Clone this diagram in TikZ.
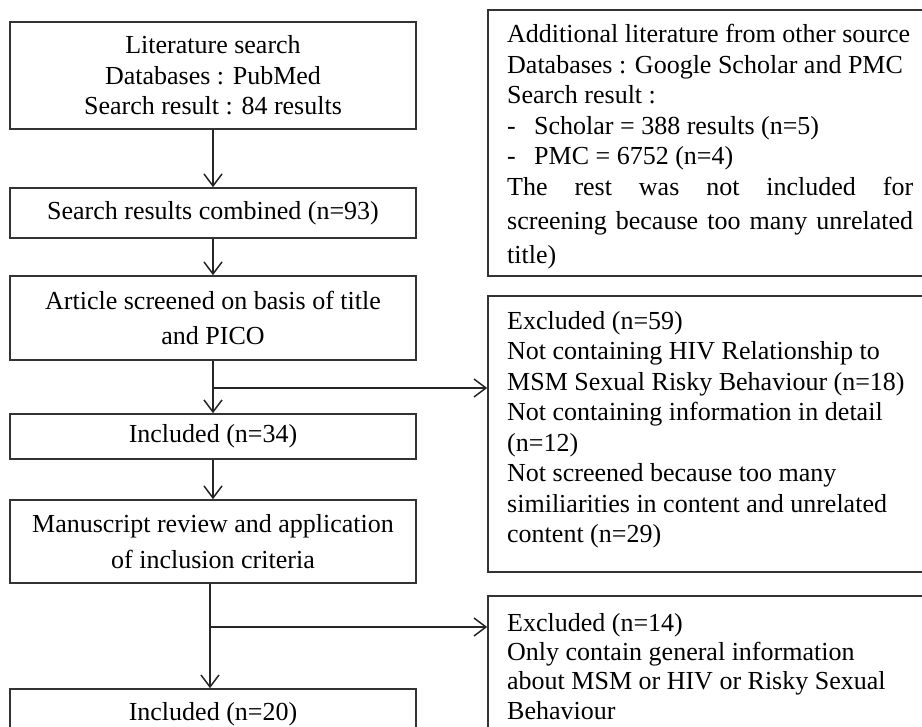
\documentclass[tikz,border=0pt]{standalone}
\usepackage{fontspec}
\setmainfont{Liberation Serif}
\usetikzlibrary{arrows.meta}
\begin{document}
\begin{tikzpicture}[x=1pt,y=-1pt,
  box/.style={draw=black!80, line width=1.6pt, inner sep=0pt},
  txt/.style={font=\fontsize{26}{30.5}\selectfont},
  lbox/.style={box, txt, minimum width=406pt, align=center},
  rbox/.style={box, minimum width=452pt},
  rtxt/.style={txt, inner sep=0pt, anchor=north west, text width=440pt, align=flush left},
  arr/.style={line width=1.6pt, draw=black!85, -{Straight Barb[length=12pt,width=18pt,line width=1.5pt]}}]
\useasboundingbox (0,0) rectangle (922,727);
\clip (0,0) rectangle (922,727);

% left column
\node[lbox, minimum height=107pt] (b1) at (213,75.5) {Literature search\\Databases : PubMed\\Search result : 84 results};
\node[lbox, minimum height=50pt] (b2) at (213,213) {Search results combined (n=93)};
\node[lbox, minimum height=84pt] (b3) at (213,318) {Article screened on basis of title\\[5pt]and PICO};
\node[lbox, minimum height=45pt] (b4) at (213,436.5) {Included (n=34)};
\node[lbox, minimum height=83pt] (b5) at (213,541.5) {Manuscript review and application\\[5pt]of inclusion criteria};
\node[lbox, minimum height=50pt] (b6) at (213,714) {Included (n=20)};

% right column
\node[rbox, minimum height=266pt] (r1) at (714,143) {};
\node[rtxt] (t1) at (507,24) {Additional literature from other source\\
Databases : Google Scholar and PMC\\
Search result :\\
\makebox[27pt][l]{-}Scholar = 388 results (n=5)\\
\makebox[27pt][l]{-}PMC = 6752 (n=4)\\
\makebox[406pt][s]{The rest was not included for}\\[4pt]
\makebox[406pt][s]{screening because too many unrelated}\\[3pt]
title)};

\node[rbox, minimum height=276pt] (r2) at (714,434) {};
\node[rtxt] (t2) at (507,311) {Excluded (n=59)\\
Not containing HIV Relationship to\\
MSM Sexual Risky Behaviour (n=18)\\
Not containing information in detail\\
(n=12)\\
Not screened because too many\\
similiarities in content and unrelated\\
content (n=29)};

\node[rbox, minimum height=160pt] (r3) at (714,676) {};
\node[rtxt, font=\fontsize{26}{29.3}\selectfont] (t3) at (507,613) {Excluded (n=14)\\
Only contain general information\\
about MSM or HIV or Risky Sexual\\
Behaviour};

% connectors
\coordinate (j1) at (213,388);
\coordinate (j2) at (210,627);
\draw[arr] (b1) -- (b2);
\draw[arr] (b2) -- (b3);
\draw[arr] (b3) -- (b4);
\draw[arr] (j1) -- (j1 -| r2.west);
\draw[arr] (b4) -- (b5);
\draw[arr] (j2 |- b5.south) -- (j2 |- b6.north);
\draw[arr] (j2) -- (j2 -| r3.west);
\end{tikzpicture}
\end{document}
